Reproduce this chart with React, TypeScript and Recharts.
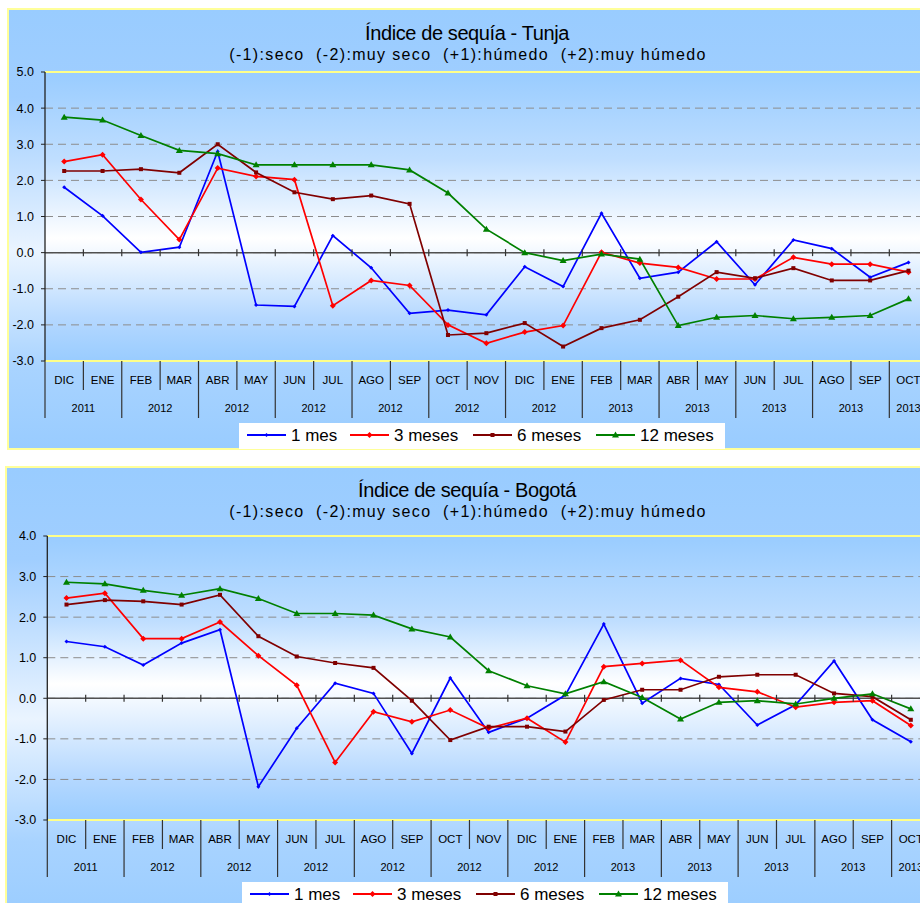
import React from 'react';
import { CartesianGrid, Line, LineChart, ReferenceLine, XAxis, YAxis } from 'recharts';

const months = ['DIC', 'ENE', 'FEB', 'MAR', 'ABR', 'MAY', 'JUN', 'JUL', 'AGO', 'SEP', 'OCT', 'NOV', 'DIC', 'ENE', 'FEB', 'MAR', 'ABR', 'MAY', 'JUN', 'JUL', 'AGO', 'SEP', 'OCT'];
// one year label per pair of months
const yearGroups = ['2011', '2012', '2012', '2012', '2012', '2012', '2012', '2013', '2013', '2013', '2013', '2013'];

const seriesNames = ['1 mes', '3 meses', '6 meses', '12 meses'];

const tunja1 = [1.81, 1.02, 0.01, 0.15, 2.8, -1.45, -1.49, 0.47, -0.42, -1.68, -1.59, -1.72, -0.39, -0.94, 1.09, -0.71, -0.54, 0.3, -0.89, 0.35, 0.11, -0.68, -0.27];
const tunja3 = [2.52, 2.71, 1.47, 0.36, 2.34, 2.11, 2.02, -1.47, -0.77, -0.91, -2.0, -2.51, -2.2, -2.02, 0.01, -0.29, -0.41, -0.73, -0.73, -0.13, -0.32, -0.32, -0.54];
const tunja6 = [2.26, 2.26, 2.31, 2.21, 3.0, 2.22, 1.67, 1.48, 1.58, 1.35, -2.28, -2.23, -1.95, -2.6, -2.09, -1.86, -1.22, -0.54, -0.71, -0.43, -0.77, -0.77, -0.5];
const tunja12 = [3.75, 3.67, 3.24, 2.83, 2.74, 2.43, 2.43, 2.43, 2.43, 2.29, 1.65, 0.65, 0.0, -0.22, -0.04, -0.18, -2.02, -1.79, -1.74, -1.83, -1.79, -1.74, -1.28];

const bogota1 = [1.4, 1.27, 0.82, 1.36, 1.69, -2.18, -0.74, 0.37, 0.12, -1.36, 0.5, -0.84, -0.49, 0.08, 1.83, -0.12, 0.49, 0.34, -0.66, -0.16, 0.92, -0.53, -1.07];
const bogota3 = [2.47, 2.59, 1.47, 1.47, 1.88, 1.05, 0.32, -1.58, -0.33, -0.58, -0.29, -0.74, -0.49, -1.08, 0.78, 0.86, 0.94, 0.27, 0.16, -0.22, -0.1, -0.06, -0.67];
const bogota6 = [2.31, 2.42, 2.39, 2.31, 2.55, 1.53, 1.03, 0.87, 0.75, -0.06, -1.03, -0.7, -0.7, -0.82, -0.04, 0.21, 0.21, 0.53, 0.58, 0.58, 0.12, 0.04, -0.53];
const bogota12 = [2.86, 2.82, 2.66, 2.54, 2.7, 2.46, 2.09, 2.09, 2.05, 1.71, 1.51, 0.68, 0.31, 0.11, 0.41, 0.02, -0.51, -0.1, -0.06, -0.14, 0.0, 0.11, -0.26];

const tunjaTicks = [-3, -2, -1, 0, 1, 2, 3, 4, 5];
const bogotaTicks = [-3, -2, -1, 0, 1, 2, 3, 4];

const SUBTITLE = '(-1):seco  (-2):muy seco  (+1):húmedo  (+2):muy húmedo';

const FONT = '"Liberation Sans", Arial, sans-serif';
const COLORS = ['#0000FF', '#FF0000', '#800000', '#008000'];
const CHART_W = 940;
const PLOT_W = 882.7;
const HALF = PLOT_W / months.length / 2;
const AXIS_H = 60;

function Marker({ kind, cx, cy, color }: { kind: number; cx: number; cy: number; color: string }) {
  if (cx == null || cy == null) return null;
  if (kind === 0) {
    return <path d={`M${cx},${cy - 2}L${cx + 2},${cy}L${cx},${cy + 2}L${cx - 2},${cy}Z`} fill={color} />;
  }
  if (kind === 1) {
    return <path d={`M${cx},${cy - 3}L${cx + 3},${cy}L${cx},${cy + 3}L${cx - 3},${cy}Z`} fill={color} />;
  }
  if (kind === 2) {
    return <rect x={cx - 2} y={cy - 2} width={4} height={4} fill={color} />;
  }
  return <path d={`M${cx},${cy - 3.5}L${cx + 3.5},${cy + 2.5}L${cx - 3.5},${cy + 2.5}Z`} fill={color} />;
}

function LegendBox({ left, top }: { left: number; top: number }) {
  const starts = [8, 111, 234, 357];
  return (
    <svg style={{ position: 'absolute', left, top }} width={486} height={26}>
      <rect x={0} y={0} width={486} height={26} fill="#FFFFFF" />
      {seriesNames.map((name, k) => (
        <g key={name}>
          <line x1={starts[k]} x2={starts[k] + 39} y1={12} y2={12} stroke={COLORS[k]} strokeWidth={1.8} />
          <Marker kind={k} cx={starts[k] + 19.5} cy={12} color={COLORS[k]} />
          <text x={starts[k] + 44} y={18} fontSize={17} fontFamily={FONT} fill="#000">
            {name}
          </text>
        </g>
      ))}
    </svg>
  );
}

type PanelProps = {
  city: string;
  series: number[][];
  ticks: number[];
  panelLeft: number;
  panelTop: number;
  panelH: number;
  wrapTop: number;
  wrapH: number;
  plotTop: number;
  plotBottom: number;
  plotLeft: number;
  titleY: number;
  legendLeft: number;
  legendTop: number;
  gradId: string;
};

function DroughtPanel(p: PanelProps) {
  const yMin = p.ticks[0];
  const yMax = p.ticks[p.ticks.length - 1];
  const data = months.map((m, i) => ({
    key: `${m}-${i}`,
    s0: p.series[0][i],
    s1: p.series[1][i],
    s2: p.series[2][i],
    s3: p.series[3][i],
  }));
  // local coords inside chart svg
  const top = p.plotTop - p.wrapTop;
  const bottom = p.plotBottom - p.wrapTop;
  const zeroY = top + ((bottom - top) * yMax) / (yMax - yMin);

  const renderTick = (props: any) => {
    const x = props.x;
    const i = props.index ?? props.payload?.index ?? 0;
    const b = bottom;
    const right = x + HALF;
    const last = i === months.length - 1;
    return (
      <g>
        <text x={x} y={b + 23} textAnchor="middle" fontSize={11.5} fontFamily={FONT} fill="#000">
          {months[i]}
        </text>
        {i === 0 && <line x1={x - HALF} x2={x - HALF} y1={b} y2={b + 57} stroke="#333" strokeWidth={1.2} />}
        {!last && (
          <line x1={right} x2={right} y1={b} y2={b + (i % 2 === 1 ? 57 : 29)} stroke="#333" strokeWidth={1.2} />
        )}
        {!last && <line x1={right} x2={right} y1={zeroY - 3.5} y2={zeroY + 3.5} stroke="#333" strokeWidth={1.2} />}
        {i % 2 === 0 && (
          <text x={last ? x : right} y={b + 51} textAnchor="middle" fontSize={11} fontFamily={FONT} fill="#000">
            {yearGroups[i / 2]}
          </text>
        )}
      </g>
    );
  };

  return (
    <>
      <div
        style={{
          position: 'absolute',
          left: p.panelLeft,
          top: p.panelTop,
          width: 960,
          height: p.panelH,
          boxSizing: 'border-box',
          border: '2px solid #FFFF99',
          background: 'linear-gradient(to bottom, #99CCFF 0%, #A0CEFF 20%, #EAF4FF 55%, #A8D3FF 82%, #99CCFF 100%)',
        }}
      />
      <svg width={0} height={0} style={{ position: 'absolute' }}>
        <defs>
          <linearGradient id={p.gradId} x1="0" y1="0" x2="0" y2="1">
            <stop offset="0%" stopColor="#99CCFF" />
            <stop offset="30%" stopColor="#BFDEFF" />
            <stop offset={`${(yMax / (yMax - yMin)) * 100 - 5}%`} stopColor="#FFFFFF" />
            <stop offset="85%" stopColor="#B5D8FF" />
            <stop offset="100%" stopColor="#99CCFF" />
          </linearGradient>
        </defs>
      </svg>
      <div style={{ position: 'absolute', left: 0, top: p.wrapTop }}>
        <LineChart
          width={CHART_W}
          height={p.wrapH}
          data={data}
          margin={{ top, left: 0, right: CHART_W - p.plotLeft - PLOT_W, bottom: p.wrapH - bottom - AXIS_H }}
        >
          <CartesianGrid vertical={false} stroke="#8C8C8C" strokeDasharray="8 5" fill={`url(#${p.gradId})`} fillOpacity={1} />
          <XAxis
            dataKey="key"
            scale="point"
            padding={{ left: HALF, right: HALF }}
            interval={0}
            height={AXIS_H}
            axisLine={false}
            tickLine={false}
            tick={renderTick}
          />
          <YAxis
            type="number"
            domain={[yMin, yMax]}
            ticks={p.ticks}
            interval={0}
            allowDataOverflow
            width={p.plotLeft}
            tickFormatter={(v: number) => v.toFixed(1)}
            tick={{ fontSize: 12.5, fill: '#000', fontFamily: FONT }}
            tickSize={4}
            tickMargin={7}
            axisLine={{ stroke: '#222', strokeWidth: 1.3 }}
            tickLine={{ stroke: '#222' }}
          />
          <ReferenceLine y={yMax} stroke="#FFFF88" strokeWidth={2} />
          <ReferenceLine y={yMin} stroke="#FFFF88" strokeWidth={2} />
          <ReferenceLine y={0} stroke="#505050" strokeWidth={1.5} />
          {[0, 1, 2, 3].map((k) => (
            <Line
              key={k}
              type="linear"
              dataKey={`s${k}`}
              name={seriesNames[k]}
              stroke={COLORS[k]}
              strokeWidth={1.7}
              isAnimationActive={false}
              dot={(d: any) => <Marker key={`${k}-${d.index}`} kind={k} cx={d.cx} cy={d.cy} color={COLORS[k]} />}
              activeDot={false}
            />
          ))}
        </LineChart>
      </div>
      <svg style={{ position: 'absolute', left: 0, top: p.titleY - 22 }} width={920} height={30 + 22}>
        <text x={467} y={22} textAnchor="middle" fontSize={20} fontFamily={FONT} fill="#000" letterSpacing={-0.4}>
          {`Índice de sequía - ${p.city}`}
        </text>
        <text
          x={468}
          y={42}
          textAnchor="middle"
          fontSize={16}
          fontFamily={FONT}
          fill="#000"
          letterSpacing={1.35}
          style={{ whiteSpace: 'pre' }}
        >
          {SUBTITLE}
        </text>
      </svg>
      <LegendBox left={p.legendLeft} top={p.legendTop} />
    </>
  );
}

export default function App() {
  return (
    <div style={{ position: 'fixed', left: 0, top: 0, width: 920, height: 903, overflow: 'hidden', background: '#FFFFFF' }}>
      <DroughtPanel
        city="Tunja"
        series={[tunja1, tunja3, tunja6, tunja12]}
        ticks={tunjaTicks}
        panelLeft={7}
        panelTop={8}
        panelH={442}
        wrapTop={0}
        wrapH={450}
        plotTop={72}
        plotBottom={361}
        plotLeft={45}
        titleY={40}
        legendLeft={239}
        legendTop={423}
        gradId="plotGradTunja"
      />
      <DroughtPanel
        city="Bogotá"
        series={[bogota1, bogota3, bogota6, bogota12]}
        ticks={bogotaTicks}
        panelLeft={5}
        panelTop={466}
        panelH={460}
        wrapTop={460}
        wrapH={443}
        plotTop={536}
        plotBottom={820}
        plotLeft={47.3}
        titleY={497}
        legendLeft={242}
        legendTop={882}
        gradId="plotGradBogota"
      />
    </div>
  );
}
